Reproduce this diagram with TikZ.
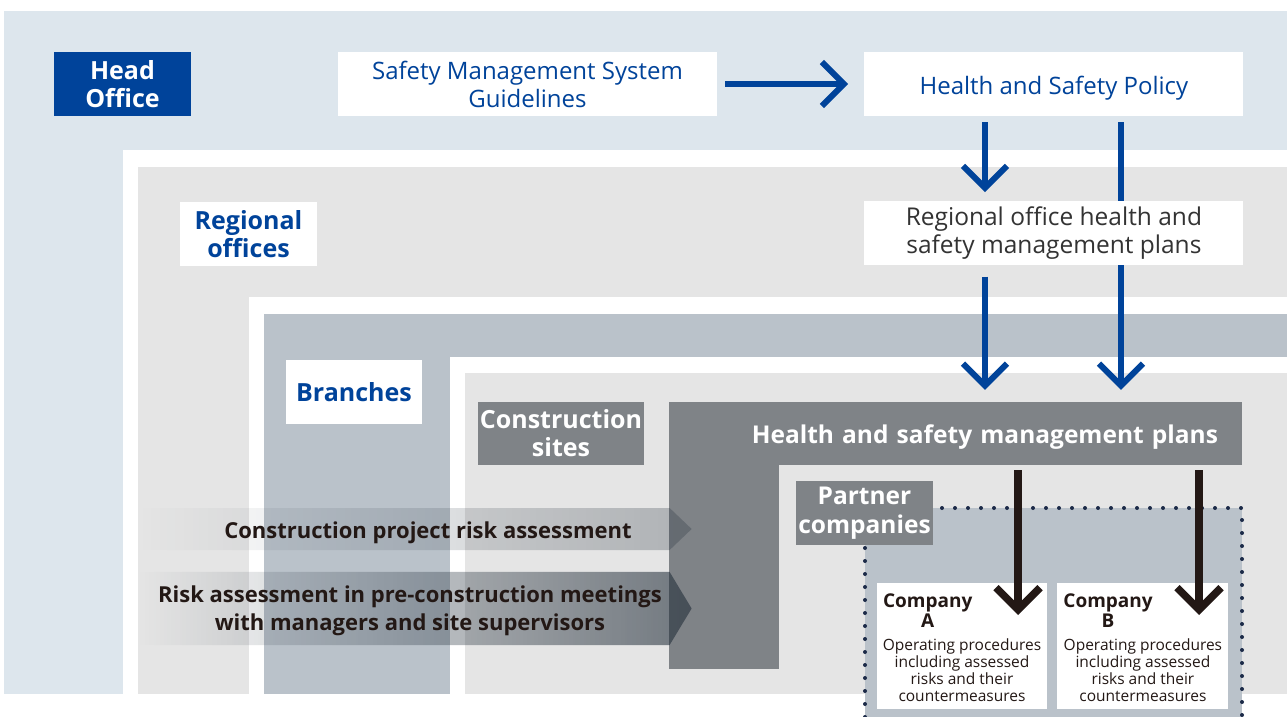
\documentclass[tikz,border=0pt]{standalone}
\usepackage{fontspec}
\setmainfont{Open Sans}
\usetikzlibrary{arrows.meta,positioning,fadings}
\definecolor{hoBlue}{HTML}{00439A}
\definecolor{hoTint}{HTML}{DDE6ED}
\definecolor{roGrey}{HTML}{E5E5E5}
\definecolor{brSlate}{HTML}{BAC2CA}
\definecolor{siteGrey}{HTML}{7F8387}
\definecolor{inkBlack}{HTML}{231815}
\definecolor{dotNavy}{HTML}{1C2A48}
\definecolor{textGrey}{HTML}{333333}
\definecolor{bandInk}{HTML}{1E2A36}
\tikzfading[name=fade in east, left color=transparent!100, right color=transparent!0]

\begin{document}
\begin{tikzpicture}[x=1pt,y=-1pt,
  lvl/.style={fill=#1,inner sep=0pt,align=center,minimum width=137pt,minimum height=64pt,
    font=\fontsize{25}{28}\selectfont\bfseries},
  doc/.style={fill=white,inner sep=0pt,align=center,minimum width=379pt,minimum height=64pt,
    font=\fontsize{24}{28}\selectfont},
  arr/.style={-{Straight Barb[length=22pt,width=44pt]},line width=6pt,hoBlue},
  karr/.style={-{Straight Barb[length=22pt,width=44pt]},line width=7.5pt,inkBlack},
  band/.style={fill=bandInk,path fading=fade in east},
  risk/.style={inner sep=0pt,align=center,text=inkBlack,font=\fontsize{22}{28}\selectfont\bfseries},
  cobox/.style={fill=white,inner sep=0pt,minimum width=170pt,minimum height=126pt},
  dotline/.style={dotNavy,line width=4pt,line cap=round,dash pattern=on 0pt off 13pt}]
\useasboundingbox (0,0) rectangle (1287,717);
% nested levels
\fill[hoTint] (4,11) rectangle (1287,694);
\fill[white] (123,150) rectangle (1287,694);
\fill[roGrey] (138,167) rectangle (1287,694);
\fill[white] (249,297) rectangle (1287,694);
\fill[brSlate] (264,314) rectangle (1287,694);
\fill[white] (450,357) rectangle (1287,694);
\fill[roGrey] (465,373) rectangle (1287,694);
% partner area
\fill[brSlate] (865,508) rectangle (1242,717);
\draw[dotline] (865,717) |- (1242,508) -- (1242,717);
% site plans
\node[fill=siteGrey,text=white,inner sep=0pt,inner xsep=24pt,text width=525pt,align=right,
  minimum height=63pt,text height=20pt,text depth=0pt,font=\fontsize{24.5}{28}\selectfont\bfseries]
  (plans) at (955.5,433.5) {Health and safety management plans};
\fill[siteGrey] (plans.south west) rectangle (779,669);
% risk assessment
\fill[band,fill opacity=0.27] (140,508) -- (670,508) -- (692,529) -- (670,550) -- (140,550) -- cycle;
\fill[band,fill opacity=0.58] (140,572) -- (670,572) -- (692,608.5) -- (670,645) -- (140,645) -- cycle;
\node[risk] (cpra) at (428,533) {Construction project risk assessment};
\node[risk] (pcra) at (410,611) {Risk assessment in pre-construction meetings\\with managers and site supervisors};
% head office
\node[lvl=hoBlue,text=white] (head) at (122.5,84) {Head\\Office};
\node[doc,text=hoBlue] (guide) at (527.5,84) {Safety Management System\\Guidelines};
\node[doc,text=hoBlue,text height=20pt,text depth=0pt,right=147pt of guide] (policy) {Health and Safety Policy};
\draw[arr,shorten <=8pt,shorten >=16pt] (guide) -- (policy);
\coordinate (colL) at (985,0);
\coordinate (colR) at (1121,0);
\draw[arr,shorten <=6pt,shorten >=12pt] (policy.south -| colR) -- (plans.north -| colR);
% regional offices
\node[lvl=white,text=hoBlue] (region) at (248.5,234) {Regional\\offices};
\node[doc,text=textGrey,below=85pt of policy,font=\fontsize{24.5}{28}\selectfont] (rplans)
  {Regional office health and\\safety management plans};
\draw[arr,shorten <=6pt,shorten >=9pt] (policy.south -| colL) -- (rplans.north -| colL);
\draw[arr,shorten <=11pt,shorten >=12pt] (rplans.south -| colL) -- (plans.north -| colL);
% branches and sites
\node[lvl=white,text=hoBlue,minimum width=136pt] (branch) at (354,392) {Branches};
\node[lvl=siteGrey,text=white,minimum width=166pt,minimum height=63pt] (site) at (561,433.5) {Construction\\sites};
% partner companies
\node[cobox] (compA) at (962,646) {};
\node[cobox,right=10pt of compA,minimum width=171pt] (compB) {};
\foreach \c in {A,B}{
  \node[anchor=north west,inner sep=0pt,align=center,text=inkBlack,font=\fontsize{19}{20}\selectfont\bfseries]
    (head\c) at ([shift={(6,11)}]comp\c.north west) {Company\\\c};
  \node[anchor=north,inner sep=0pt,align=center,text=inkBlack,font=\fontsize{15.5}{17}\selectfont]
    (desc\c) at ([yshift=-56pt]comp\c.north) {Operating procedures\\including assessed\\risks and their\\countermeasures};
}
\coordinate (tipA) at (1018,615);
\coordinate (tipB) at (1199,615);
\draw[karr,shorten <=5pt] (plans.south -| tipA) -- (tipA);
\draw[karr,shorten <=5pt] (plans.south -| tipB) -- (tipB);
\node[lvl=siteGrey,text=white,font=\fontsize{24.5}{29}\selectfont\bfseries] (partner) at (864.5,513) {Partner\\companies};
\end{tikzpicture}
\end{document}
